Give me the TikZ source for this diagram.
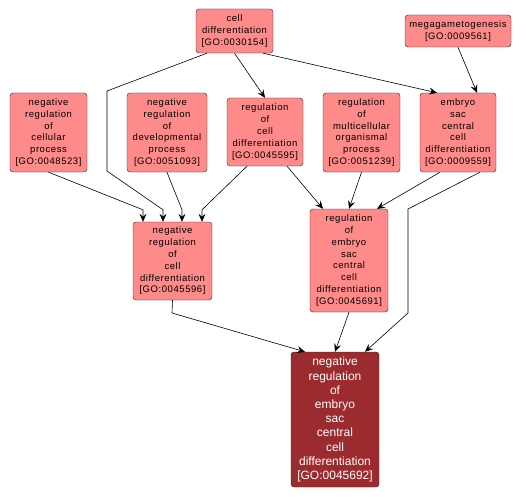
\documentclass[tikz,border=0pt]{standalone}
\usepackage{fontspec}
\setmainfont{Liberation Sans}
\newfontfamily\gofont[LetterSpace=6]{Liberation Sans}
\usetikzlibrary{arrows.meta}
\definecolor{goterm}{RGB}{255,138,138}
\definecolor{gofocus}{RGB}{155,43,46}
\begin{document}
\begin{tikzpicture}[x=1pt,y=-1pt,>={Stealth[length=8pt,width=7pt,inset=3pt]},
  term/.style={draw=black!85,fill=goterm,rounded corners=3pt,align=center,
    inner sep=0pt,font=\gofont\fontsize{9.5}{11.8}\selectfont},
  focus/.style={term,fill=gofocus,text=white,font=\rmfamily\fontsize{12}{14.2}\selectfont},
  edge/.style={->,black,line width=0.6pt}]
  \useasboundingbox (0,0) rectangle (526,497);
  % top row
  \node[term,minimum width=77pt,minimum height=44pt] (cd) at (234.5,31)
    {cell\\differentiation\\{[GO:0030154]}};
  \node[term,minimum width=106pt,minimum height=32pt] (mg) at (458,31)
    {megagametogenesis\\{[GO:0009561]}};
  % second row
  \node[term,minimum width=77pt,minimum height=79pt] (nrcp) at (48.5,132.5)
    {negative\\regulation\\of\\cellular\\process\\{[GO:0048523]}};
  \node[term,minimum width=80pt,minimum height=79pt] (nrdp) at (167,132.5)
    {negative\\regulation\\of\\developmental\\process\\{[GO:0051093]}};
  \node[term,minimum width=76pt,minimum height=68pt] (rcd) at (265,132)
    {regulation\\of\\cell\\differentiation\\{[GO:0045595]}};
  \node[term,minimum width=77pt,minimum height=79pt] (rmp) at (361.5,132.5)
    {regulation\\of\\multicellular\\organismal\\process\\{[GO:0051239]}};
  \node[term,minimum width=76pt,minimum height=79pt] (esccd) at (458,132.5)
    {embryo\\sac\\central\\cell\\differentiation\\{[GO:0009559]}};
  % third row
  \node[term,minimum width=79pt,minimum height=78pt] (nrcd) at (172.5,261)
    {negative\\regulation\\of\\cell\\differentiation\\{[GO:0045596]}};
  \node[term,minimum width=78pt,minimum height=103pt] (res) at (349,260.5)
    {regulation\\of\\embryo\\sac\\central\\cell\\differentiation\\{[GO:0045691]}};
  % the term itself
  \node[focus,minimum width=88pt,minimum height=135pt] (t) at (335,419.5)
    {negative\\regulation\\of\\embryo\\sac\\central\\cell\\differentiation\\{[GO:0045692]}};
  % bends
  \coordinate (b1) at (107,91);
  \coordinate (b2) at (107,171);
  \coordinate (b3) at (408,209);
  \coordinate (b4) at (408,313);
  \coordinate (b5) at (172,313);
  % edges into nrcd
  \draw[edge] ([xshift=-27.5pt]cd.south) -- (b1) -- (b2) -- ([shift={(-9.5,-12)}]nrcd.north) -- ([xshift=-9.5pt]nrcd.north);
  \draw[edge] (nrcp.south) -- ([shift={(-29.5,-12)}]nrcd.north) -- ([xshift=-29.5pt]nrcd.north);
  \draw[edge] (nrdp.south) -- ([shift={(9.5,-12)}]nrcd.north) -- ([xshift=9.5pt]nrcd.north);
  \draw[edge] ([xshift=-18pt]rcd.south) -- ([shift={(29.5,-12)}]nrcd.north) -- ([xshift=29.5pt]nrcd.north);
  % edges from the top row
  \draw[edge] (cd.south) -- (rcd.north);
  \draw[edge] ([xshift=28.5pt]cd.south) -- ([xshift=-21pt]esccd.north);
  \draw[edge] (mg.south) -- ([xshift=19pt]esccd.north);
  % edges into res
  \draw[edge] ([xshift=22pt]rcd.south) -- ([xshift=-26pt]res.north);
  \draw[edge] (rmp.south) -- (res.north);
  \draw[edge] ([xshift=-18pt]esccd.south) -- ([xshift=28pt]res.north);
  % edges into t
  \draw[edge] ([xshift=22pt]esccd.south) -- (b3) -- (b4) -- ([xshift=30pt]t.north);
  \draw[edge] (res.south) -- (t.north);
  \draw[edge] (nrcd.south) -- (b5) -- ([xshift=-30pt]t.north);
\end{tikzpicture}
\end{document}
